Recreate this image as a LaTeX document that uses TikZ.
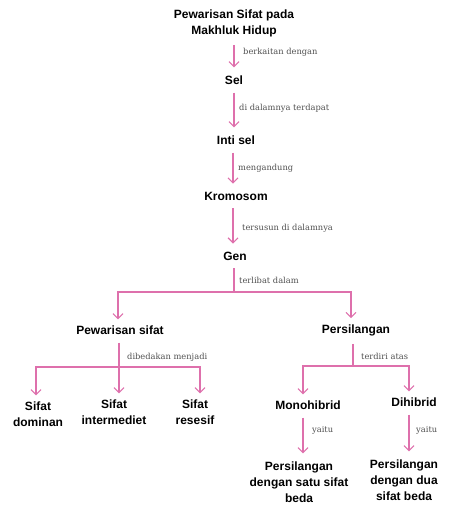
\documentclass[tikz,border=0pt]{standalone}
\usepackage{fontspec}
\setmainfont{DejaVu Serif}
\setsansfont{Liberation Sans}
\usepackage{tikz}
\usetikzlibrary{arrows.meta,positioning}
\definecolor{garis}{RGB}{222,112,172}
\definecolor{abu}{RGB}{80,80,80}

\begin{document}
\begin{tikzpicture}[x=1pt,y=-1pt,
  konsep/.style={align=center,font=\sffamily\bfseries\fontsize{12}{16}\selectfont,inner sep=0pt},
  ket/.style={anchor=west,font=\fontsize{8.3}{10}\selectfont,text=abu,inner sep=0pt},
  arr/.style={-{Straight Barb[length=5pt,width=10pt]},draw=garis,line width=1.1pt,shorten <=8pt,shorten >=8pt},
  cab/.style={draw=garis,line width=1.1pt,shorten <=8pt},
  turun/.style={-{Straight Barb[length=5pt,width=10pt]},draw=garis,line width=1.1pt,shorten >=6pt}]
\useasboundingbox (0,0) rectangle (474,510);
% rantai utama
\node[konsep] (judul) at (234,23) {Pewarisan Sifat pada\\Makhluk Hidup};
\node[konsep] (sel) at (234,80) {Sel};
\node[konsep] (inti) at (236,140) {Inti sel};
\node[konsep] (kromo) at (236,196) {Kromosom};
\node[konsep] (gen) at (235,256) {Gen};
% cabang
\node[konsep] (pws) at (120,330) {Pewarisan sifat};
\node[konsep] (prs) at (356,330) {Persilangan};
\node[konsep] (dom) at (38,414) {Sifat\\dominan};
\node[konsep] (inter) at (114,412) {Sifat\\intermediet};
\node[konsep] (res) at (195,412) {Sifat\\resesif};
\node[konsep] (mono) at (308,405) {Monohibrid};
\node[konsep] (di) at (414,402) {Dihibrid};
\node[konsep] (satu) at (299,482) {Persilangan\\dengan satu sifat\\beda};
\node[konsep] (dua) at (404,480) {Persilangan\\dengan dua\\sifat beda};
% titik cabang
\coordinate (f1) at (234,292);
\coordinate (f2) at (119,367);
\coordinate (f3) at (353,366);
% panah
\draw[arr] (judul.south -| 234,0) -- (sel.north -| 234,0);
\draw[arr] (sel.south -| 234,0) -- (inti.north -| 234,0);
\draw[arr] (inti.south -| 233,0) -- (kromo.north -| 233,0);
\draw[arr] (kromo.south -| 233,0) -- (gen.north -| 233,0);
\draw[cab] (gen.south -| f1) -- (f1);
\draw[turun] (f1) -| (pws.north -| 118,0);
\draw[turun] (f1) -| (prs.north -| 351,0);
\draw[cab] (pws.south -| f2) -- (f2);
\draw[turun] (f2) -| (dom.north -| 36,0);
\draw[turun] (f2) -- (inter.north -| f2);
\draw[turun] (f2) -| (res.north -| 200,0);
\draw[cab] (prs.south -| f3) -- (f3);
\draw[turun] (f3) -| (mono.north -| 303,0);
\draw[turun] (f3) -| (di.north -| 409,0);
\draw[arr] (mono.south -| 303,0) -- (satu.north -| 303,0);
\draw[arr] (di.south -| 409,0) -- (dua.north -| 409,0);
% keterangan
\node[ket] (k1) at (243,52) {berkaitan dengan};
\node[ket] (k2) at (239,108) {di dalamnya terdapat};
\node[ket] (k3) at (238,168) {mengandung};
\node[ket] (k4) at (242,228) {tersusun di dalamnya};
\node[ket] (k5) at (239,280) {terlibat dalam};
\node[ket] (k6) at (127,357) {dibedakan menjadi};
\node[ket] (k7) at (361,356) {terdiri atas};
\node[ket] (k8) at (312,430) {yaitu};
\node[ket] (k9) at (416,430) {yaitu};
\end{tikzpicture}
\end{document}
